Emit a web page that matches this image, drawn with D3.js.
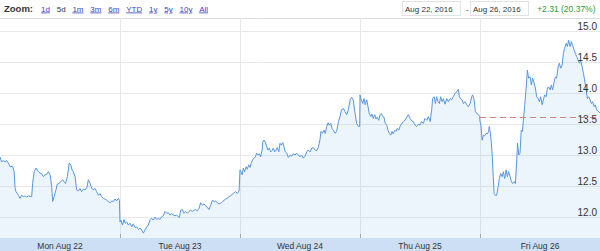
<!DOCTYPE html>
<html>
<head>
<meta charset="utf-8">
<script src="https://cdn.jsdelivr.net/npm/d3@7"></script>
<style>
  body { margin: 0; background: #fff; }
  svg { display: block; font-family: "Liberation Sans", Arial, sans-serif; }
</style>
</head>
<body>
<svg id="chart" width="600" height="251"></svg>
<script>
var days = ['Mon Aug 22', 'Tue Aug 23', 'Wed Aug 24', 'Thu Aug 25', 'Fri Aug 26'];
var yTicks = [12.0, 12.5, 13.0, 13.5, 14.0, 14.5, 15.0];
var zoomButtons = ['1d', '5d', '1m', '3m', '6m', 'YTD', '1y', '5y', '10y', 'All'];
var selectedButton = '5d';
var rangeFrom = 'Aug 22, 2016';
var rangeTo = 'Aug 26, 2016';
var change = '+2.31 (20.37%)';
var prevClose = 13.62;
var sessionMinutes = 390;

// [minutes since open, price]
var mon = [[0,12.97],[5,12.89],[11,12.91],[16,12.89],[22,12.91],[27,12.87],[33,12.81],[41,12.82],
  [46,12.73],[49,12.47],[52,12.41],[60,12.35],[65,12.30],[70,12.35],[76,12.33],[81,12.34],[87,12.32],
  [92,12.34],[98,12.33],[103,12.33],[106,12.54],[111,12.73],[117,12.79],[125,12.73],[130,12.71],
  [135,12.70],[141,12.65],[146,12.68],[152,12.69],[157,12.73],[163,12.68],[168,12.49],[171,12.25],
  [176,12.33],[182,12.44],[186,12.53],[192,12.54],[197,12.57],[204,12.60],[208,12.57],[213,12.54],
  [219,12.65],[225,12.87],[230,12.84],[234,12.76],[238,12.73],[244,12.65],[249,12.44],[255,12.42],
  [260,12.46],[265,12.41],[271,12.45],[276,12.44],[282,12.46],[287,12.60],[293,12.54],[298,12.46],
  [303,12.44],[309,12.46],[314,12.41],[320,12.35],[325,12.38],[330,12.33],[336,12.30],[341,12.29],
  [347,12.27],[352,12.25],[358,12.23],[363,12.26],[368,12.25],[374,12.29],[379,12.26],[385,12.30],
  [388,12.27]];
var tue = [[0,11.92],[3,11.95],[8,11.87],[13,11.96],[17,11.90],[22,11.92],[27,11.87],[33,11.90],
  [38,11.84],[43,11.89],[49,11.83],[54,11.84],[60,11.80],[65,11.82],[70,11.79],[76,11.74],[81,11.79],
  [87,11.84],[92,11.87],[98,11.96],[103,11.98],[108,11.95],[114,12.00],[119,11.96],[125,11.98],
  [130,11.96],[135,12.00],[141,12.02],[146,12.09],[152,12.06],[157,12.07],[163,12.03],[168,12.06],
  [173,12.03],[179,12.02],[184,12.03],[190,12.00],[193,11.99],[197,12.11],[203,12.12],[208,12.06],
  [213,12.09],[219,12.06],[224,12.09],[230,12.11],[235,12.09],[241,12.11],[246,12.12],[251,12.10],
  [257,12.14],[262,12.23],[268,12.19],[273,12.21],[278,12.18],[284,12.16],[289,12.12],[295,12.19],
  [300,12.27],[306,12.25],[311,12.26],[316,12.23],[322,12.21],[327,12.22],[333,12.25],[338,12.27],
  [343,12.29],[349,12.30],[354,12.33],[360,12.34],[365,12.37],[371,12.39],[376,12.41],[381,12.38],
  [387,12.42]];
var wed = [[0,12.76],[3,12.73],[7,12.68],[11,12.79],[15,12.73],[20,12.81],[24,12.77],[28,12.84],
  [33,12.80],[37,12.88],[41,12.92],[46,12.95],[50,12.97],[54,13.03],[59,13.00],[63,13.02],[67,12.97],
  [72,13.08],[74,13.21],[78,13.24],[82,13.21],[87,13.13],[91,13.08],[95,13.11],[100,13.05],[104,13.07],
  [108,13.11],[113,13.05],[117,13.08],[121,13.12],[126,13.05],[130,13.19],[134,13.16],[139,13.20],
  [143,13.13],[147,13.05],[152,13.03],[157,12.96],[163,13.00],[168,12.98],[173,13.02],[179,13.00],
  [184,13.03],[190,13.00],[195,12.97],[200,13.00],[206,12.95],[211,12.98],[217,13.05],[222,13.08],
  [228,13.05],[233,13.11],[238,13.12],[244,13.08],[249,13.07],[255,13.13],[260,13.25],[263,13.38],
  [268,13.35],[273,13.40],[277,13.35],[282,13.46],[286,13.52],[290,13.48],[295,13.51],[299,13.43],
  [303,13.40],[309,13.35],[314,13.38],[320,13.54],[325,13.62],[330,13.73],[336,13.75],[341,13.70],
  [347,13.65],[352,13.73],[358,13.89],[363,13.93],[368,13.89],[374,13.67],[379,13.51],[385,13.46],
  [389,13.46]];
var thu = [[0,13.97],[4,13.89],[9,13.83],[13,13.91],[17,13.81],[22,13.89],[26,13.78],[30,13.67],
  [35,13.62],[39,13.66],[43,13.59],[48,13.65],[52,13.58],[56,13.61],[61,13.56],[65,13.65],[69,13.67],
  [74,13.62],[78,13.61],[82,13.51],[87,13.48],[91,13.40],[95,13.35],[100,13.32],[104,13.38],[108,13.34],
  [113,13.40],[117,13.38],[121,13.43],[126,13.40],[130,13.46],[135,13.50],[141,13.54],[146,13.56],
  [152,13.61],[157,13.65],[163,13.59],[168,13.55],[173,13.54],[179,13.48],[184,13.46],[190,13.50],
  [195,13.48],[200,13.54],[206,13.51],[211,13.59],[217,13.56],[222,13.62],[228,13.54],[233,13.73],
  [236,13.91],[241,13.94],[245,13.83],[249,13.94],[254,13.86],[258,13.83],[262,13.94],[267,13.86],
  [271,13.91],[276,13.82],[282,13.91],[287,13.86],[293,13.91],[298,13.89],[303,13.94],[309,13.99],
  [314,14.02],[320,14.06],[323,13.94],[327,13.91],[332,13.89],[336,13.83],[341,13.86],[347,13.81],
  [352,13.78],[358,13.83],[363,13.94],[366,13.97],[371,13.89],[375,13.70],[379,13.67],[385,13.65],
  [389,13.62]];
var fri = [[0,13.54],[3,13.48],[7,13.24],[11,13.32],[15,13.31],[20,13.35],[24,13.34],[28,13.38],
  [30,13.46],[34,13.35],[37,13.19],[40,12.97],[43,12.65],[46,12.38],[50,12.35],[54,12.35],[59,12.49],
  [63,12.62],[67,12.70],[72,12.65],[76,12.73],[80,12.62],[85,12.76],[89,12.65],[93,12.73],[98,12.65],
  [102,12.57],[106,12.54],[111,12.57],[115,12.54],[119,12.87],[122,13.19],[126,13.00],[130,13.03],
  [134,13.40],[138,13.38],[141,13.56],[145,13.78],[150,14.08],[154,14.37],[158,14.24],[163,14.26],
  [167,14.13],[171,14.24],[176,14.16],[180,14.08],[184,13.94],[189,13.91],[193,13.86],[197,13.94],
  [202,13.81],[206,13.89],[210,13.97],[215,13.94],[219,14.08],[223,14.10],[228,14.05],[232,14.13],
  [236,14.05],[241,14.18],[245,14.26],[249,14.24],[254,14.42],[258,14.48],[262,14.40],[267,14.45],
  [271,14.64],[275,14.72],[280,14.80],[284,14.75],[288,14.85],[293,14.75],[297,14.83],[301,14.77],
  [306,14.69],[310,14.64],[314,14.59],[319,14.53],[323,14.48],[327,14.53],[332,14.42],[336,14.32],
  [340,14.21],[345,14.05],[349,13.91],[353,13.94],[358,13.89],[362,13.83],[366,13.86],[371,13.78],
  [375,13.81],[379,13.73],[385,13.70],[390,13.68]];
var sessions = [mon, tue, wed, thu, fri];

var w = 600, h = 251;
var plotTop = 18, plotBottom = 238;

var svg = d3.select('#chart');

var x = d3.scaleLinear().domain([0, days.length]).range([0, w]);
var y = d3.scaleLinear().domain([12, 15]).range([217, 31]);

var points = [];
sessions.forEach(function(s, i) {
  s.forEach(function(d) {
    points.push({ t: i + d[0] / sessionMinutes, v: d[1] });
  });
});

// x axis band
svg.append('rect')
  .attr('x', 0).attr('y', plotBottom)
  .attr('width', w).attr('height', h - plotBottom)
  .attr('fill', '#cddff4');

// top separator
svg.append('line')
  .attr('x1', 0).attr('x2', w)
  .attr('y1', plotTop + 0.5).attr('y2', plotTop + 0.5)
  .attr('stroke', '#dcdcdc');

// grid
svg.append('g')
  .selectAll('line')
  .data(yTicks)
  .enter()
  .append('line')
  .attr('x1', 0).attr('x2', w)
  .attr('y1', function(d) { return Math.round(y(d)) + 0.5; })
  .attr('y2', function(d) { return Math.round(y(d)) + 0.5; })
  .attr('stroke', '#e8e8e8');

svg.append('g')
  .selectAll('line')
  .data(d3.range(1, days.length))
  .enter()
  .append('line')
  .attr('x1', function(d) { return Math.round(x(d)) + 0.5; })
  .attr('x2', function(d) { return Math.round(x(d)) + 0.5; })
  .attr('y1', plotTop).attr('y2', plotBottom)
  .attr('stroke', '#e8e8e8');

// x ticks
svg.append('g')
  .selectAll('line')
  .data(d3.range(1, days.length))
  .enter()
  .append('line')
  .attr('x1', function(d) { return Math.round(x(d)) + 0.5; })
  .attr('x2', function(d) { return Math.round(x(d)) + 0.5; })
  .attr('y1', plotBottom - 4).attr('y2', plotBottom)
  .attr('stroke', '#a8a8a8');

// area + line
var area = d3.area()
  .x(function(d) { return x(d.t); })
  .y0(plotBottom)
  .y1(function(d) { return y(d.v); });

var line = d3.line()
  .x(function(d) { return x(d.t); })
  .y(function(d) { return y(d.v); });

svg.append('path')
  .datum(points)
  .attr('d', area)
  .attr('fill', '#7cb5ec')
  .attr('fill-opacity', 0.14);

svg.append('path')
  .datum(points)
  .attr('d', line)
  .attr('fill', 'none')
  .attr('stroke', '#5896de')
  .attr('stroke-width', 1);

// previous close line (Fri session)
svg.append('line')
  .attr('x1', x(days.length - 1)).attr('x2', w)
  .attr('y1', Math.round(y(prevClose)) + 0.5)
  .attr('y2', Math.round(y(prevClose)) + 0.5)
  .attr('stroke', '#d08484')
  .attr('stroke-width', 1.2)
  .attr('stroke-dasharray', '6,4');

// y labels
svg.append('g')
  .selectAll('text')
  .data(yTicks)
  .enter()
  .append('text')
  .attr('x', 597)
  .attr('y', function(d) { return y(d) - 1.5; })
  .attr('text-anchor', 'end')
  .attr('font-size', '10px')
  .attr('fill', '#333')
  .text(d3.format('.1f'));

// x labels
svg.append('g')
  .selectAll('text')
  .data(days)
  .enter()
  .append('text')
  .attr('x', function(d, i) { return x(i + 0.5); })
  .attr('y', 248.5)
  .attr('text-anchor', 'middle')
  .attr('font-size', '8.5px')
  .attr('fill', '#333')
  .text(function(d) { return d; });

// range selector
svg.append('text')
  .attr('x', 4).attr('y', 11.5)
  .attr('font-size', '9.5px')
  .attr('font-weight', 'bold')
  .attr('fill', '#333')
  .text('Zoom:');

var bx = 41;
zoomButtons.forEach(function(b) {
  var t = svg.append('text')
    .attr('x', bx).attr('y', 11.5)
    .attr('font-size', '8px')
    .attr('fill', b === selectedButton ? '#333' : '#3b45c8')
    .attr('text-decoration', b === selectedButton ? 'none' : 'underline')
    .text(b);
  bx += t.node().getComputedTextLength() + 6.8;
});

// range inputs
svg.append('rect')
  .attr('x', 402.5).attr('y', 1.5).attr('width', 58).attr('height', 14)
  .attr('fill', '#fff').attr('stroke', '#e2e2e2');
svg.append('text')
  .attr('x', 405).attr('y', 11.5)
  .attr('font-size', '8px').attr('fill', '#333')
  .text(rangeFrom);
svg.append('text')
  .attr('x', 466).attr('y', 11.5)
  .attr('font-size', '8px').attr('fill', '#333')
  .text('-');
svg.append('rect')
  .attr('x', 470.5).attr('y', 1.5).attr('width', 58).attr('height', 14)
  .attr('fill', '#fff').attr('stroke', '#e2e2e2');
svg.append('text')
  .attr('x', 473).attr('y', 11.5)
  .attr('font-size', '8px').attr('fill', '#333')
  .text(rangeTo);
svg.append('text')
  .attr('x', 595.5).attr('y', 11.5)
  .attr('text-anchor', 'end')
  .attr('font-size', '8.5px').attr('fill', '#2f9a2f')
  .text(change);
</script>
</body>
</html>
